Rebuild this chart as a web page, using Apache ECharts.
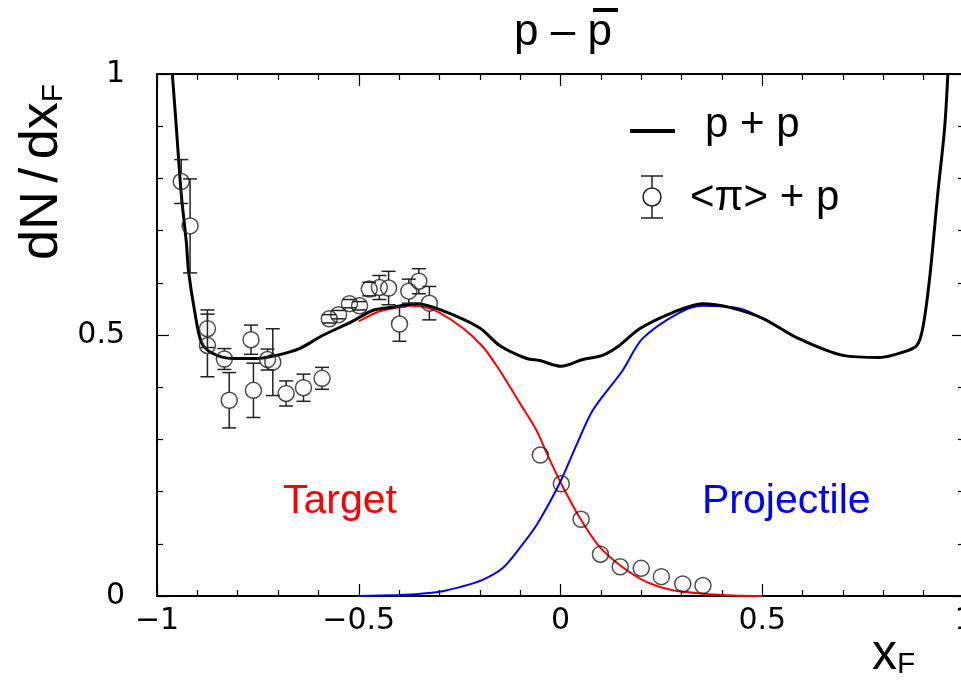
<!DOCTYPE html>
<html>
<head>
<meta charset="utf-8">
<script src="https://cdn.jsdelivr.net/npm/echarts@6/dist/echarts.min.js"></script>
<style>html,body{margin:0;padding:0;background:#fff;}#c{width:961px;height:681px;}</style>
</head>
<body>
<div id="c"></div>
<script>
// p + p curve
const ppX = [-0.962,-0.952,-0.940,-0.927,-0.922,-0.907,-0.890,-0.863,-0.813,-0.754,-0.704,-0.647,-0.590,-0.516,-0.466,-0.417,-0.357,-0.300,-0.201,-0.151,-0.084,-0.052,0.002,0.055,0.104,0.146,0.196,0.278,0.352,0.419,0.501,0.585,0.700,0.791,0.848,0.883,0.898,0.915,0.935,0.952,0.960];
const ppY = [1.0,0.897,0.771,0.675,0.623,0.547,0.486,0.465,0.455,0.455,0.461,0.474,0.499,0.526,0.547,0.553,0.560,0.549,0.514,0.480,0.455,0.451,0.440,0.453,0.461,0.480,0.512,0.543,0.560,0.553,0.532,0.495,0.461,0.457,0.467,0.480,0.514,0.610,0.771,0.897,1.0];
// Target component
const tgX = [-0.5,-0.45,-0.40,-0.37,-0.33,-0.30,-0.243,-0.193,-0.160,-0.135,-0.101,-0.060,-0.032,0.0,0.047,0.097,0.154,0.213,0.278,0.362,0.43,0.5];
const tgY = [0.526,0.545,0.553,0.556,0.552,0.543,0.514,0.478,0.443,0.413,0.370,0.318,0.270,0.218,0.151,0.094,0.055,0.027,0.011,0.004,0.001,0.0];
// Projectile component
const prX = [-0.5,-0.4,-0.35,-0.3,-0.25,-0.193,-0.144,-0.101,-0.060,-0.020,0.005,0.040,0.080,0.154,0.203,0.295,0.352,0.444,0.5];
const prY = [0.0,0.002,0.004,0.008,0.017,0.031,0.053,0.092,0.135,0.189,0.228,0.290,0.356,0.432,0.493,0.543,0.556,0.551,0.532];
// <pi> + p data
const dX = [-0.940,-0.918,-0.875,-0.875,-0.833,-0.821,-0.767,-0.761,-0.726,-0.713,-0.680,-0.637,-0.591,-0.573,-0.550,-0.523,-0.498,-0.474,-0.449,-0.426,-0.399,-0.376,-0.351,-0.325,-0.050,0.002,0.051,0.099,0.148,0.200,0.250,0.303,0.353];
const dY = [0.794,0.709,0.512,0.480,0.454,0.375,0.491,0.394,0.453,0.448,0.388,0.399,0.417,0.531,0.539,0.560,0.556,0.588,0.591,0.590,0.521,0.584,0.603,0.561,0.270,0.215,0.147,0.080,0.056,0.053,0.037,0.023,0.020];
const dE = [0.042,0.090,0.036,0.060,0.020,0.053,0.028,0.052,0.020,0.064,0.024,0.026,0.021,0.008,0.008,0.008,0.008,0.013,0.023,0.032,0.033,0.023,0.024,0.032,0,0,0,0,0,0,0,0,0];
const xTicks = [-1,-0.5,0,0.5,1];
const yTicks = [0,0.5,1];

const zip = (a,b)=>a.map((v,i)=>[v,b[i]]);
const pts = dX.map((v,i)=>[v,dY[i],dE[i]]);
const fmt = v => (v<0 ? '\u2212'+Math.abs(v) : String(v));
const R = 8;

function mkAxis(pos, min, max, ticks, showLabel, margin){
  return {
    type:'value', position:pos, min:min, max:max, interval:ticks[1]-ticks[0],
    axisLine:{show:true,onZero:false,lineStyle:{color:'#000',width:2}},
    axisTick:{show:true,inside:true,length:12,lineStyle:{color:'#000',width:1.2}},
    minorTick:{show:true,splitNumber:5,length:6,lineStyle:{color:'#000',width:1.2}},
    splitLine:{show:false},
    minorSplitLine:{show:false},
    axisLabel:showLabel ? {show:true,margin:margin,fontFamily:'DejaVu Sans',fontSize:30,color:'#000',formatter:fmt,hideOverlap:false,showMinLabel:true,showMaxLabel:true}
                        : {show:false}
  };
}

const chart = echarts.init(document.getElementById('c'));
chart.setOption({
  animation:false,
  backgroundColor:'#fff',
  grid:{left:157,top:74,width:807,height:522,containLabel:false,outerBoundsMode:'none'},
  xAxis:[ mkAxis('bottom',-1,1,xTicks,true,10), mkAxis('top',-1,1,xTicks,false,0) ],
  yAxis:[ mkAxis('left',0,1,yTicks,true,32), mkAxis('right',0,1,yTicks,false,0) ],
  series:[
    {type:'line',data:zip(tgX,tgY),showSymbol:false,smooth:0.3,lineStyle:{color:'#ff0000',width:2},z:2},
    {type:'line',data:zip(prX,prY),showSymbol:false,smooth:0.3,lineStyle:{color:'#0000ff',width:2},z:2},
    {type:'line',data:zip(ppX,ppY),showSymbol:false,smooth:0.3,lineStyle:{color:'#000',width:3},z:3},
    {type:'custom',data:pts,z:4,
      renderItem:function(params,api){
        const x=api.value(0),y=api.value(1),e=api.value(2);
        if(!e) return {type:'group',children:[]};
        const c=api.coord([x,y]), t=api.coord([x,y+e]), b=api.coord([x,y-e]);
        const w=7, st={stroke:'#222',lineWidth:1.5};
        const ch=[];
        if(c[1]-R>t[1]) ch.push({type:'line',shape:{x1:c[0],y1:t[1],x2:c[0],y2:c[1]-R},style:st});
        if(b[1]>c[1]+R) ch.push({type:'line',shape:{x1:c[0],y1:c[1]+R,x2:c[0],y2:b[1]},style:st});
        ch.push({type:'line',shape:{x1:c[0]-w,y1:t[1],x2:c[0]+w,y2:t[1]},style:st});
        ch.push({type:'line',shape:{x1:c[0]-w,y1:b[1],x2:c[0]+w,y2:b[1]},style:st});
        return {type:'group',children:ch};
      }},
    {type:'scatter',data:pts.map(p=>[p[0],p[1]]),symbol:'circle',symbolSize:16,z:5,
      itemStyle:{color:'rgba(0,0,0,0)',borderColor:'#222',borderWidth:1.5}}
  ],
  graphic:[
    {type:'text',x:563,y:33,style:{text:'p \u2013 p',fontFamily:'Liberation Sans',fontSize:44,fill:'#000',align:'center',verticalAlign:'middle'}},
    {type:'rect',shape:{x:593,y:8,width:25,height:4},style:{fill:'#000'}},
    {type:'text',x:42,y:172,rotation:Math.PI/2,style:{
      text:'{a|dN}{s| }{a|/}{s| }{a|dx}{f|F}',align:'center',verticalAlign:'middle',fill:'#000',
      rich:{a:{fontFamily:'Liberation Sans',fontSize:54,fill:'#000'},s:{fontFamily:'Liberation Sans',fontSize:30},f:{fontFamily:'Liberation Sans',fontSize:30,fill:'#000',verticalAlign:'bottom',padding:[20,0,0,0]}}}},
    {type:'text',x:872,y:655,style:{text:'{a|x}{f|F}',align:'left',verticalAlign:'middle',fill:'#000',
      rich:{a:{fontFamily:'Liberation Sans',fontSize:50,fill:'#000'},f:{fontFamily:'Liberation Sans',fontSize:30,fill:'#000',padding:[20,0,0,0]}}}},
    {type:'line',shape:{x1:630,y1:131,x2:675,y2:131},style:{stroke:'#000',lineWidth:4}},
    {type:'text',x:705,y:125,style:{text:'p + p',fontFamily:'Liberation Sans',fontSize:42,fill:'#000',align:'left',verticalAlign:'middle'}},
    {type:'circle',shape:{cx:652,cy:197,r:9},style:{fill:'none',stroke:'#222',lineWidth:1.5}},
    {type:'line',shape:{x1:652,y1:176,x2:652,y2:188},style:{stroke:'#222',lineWidth:1.5}},
    {type:'line',shape:{x1:652,y1:206,x2:652,y2:218},style:{stroke:'#222',lineWidth:1.5}},
    {type:'line',shape:{x1:641,y1:176,x2:663,y2:176},style:{stroke:'#222',lineWidth:1.5}},
    {type:'line',shape:{x1:641,y1:218,x2:663,y2:218},style:{stroke:'#222',lineWidth:1.5}},
    {type:'text',x:690,y:198,style:{text:'<\u03c0> + p',fontFamily:'Liberation Sans',fontSize:42,fill:'#000',align:'left',verticalAlign:'middle'}},
    {type:'text',x:283,y:502,style:{text:'Target',fontFamily:'Liberation Sans',fontSize:41,fill:'#ff0000',align:'left',verticalAlign:'middle'}},
    {type:'text',x:702,y:502,style:{text:'Projectile',fontFamily:'Liberation Sans',fontSize:41,fill:'#0000ff',align:'left',verticalAlign:'middle'}}
  ]
});
</script>
</body>
</html>
